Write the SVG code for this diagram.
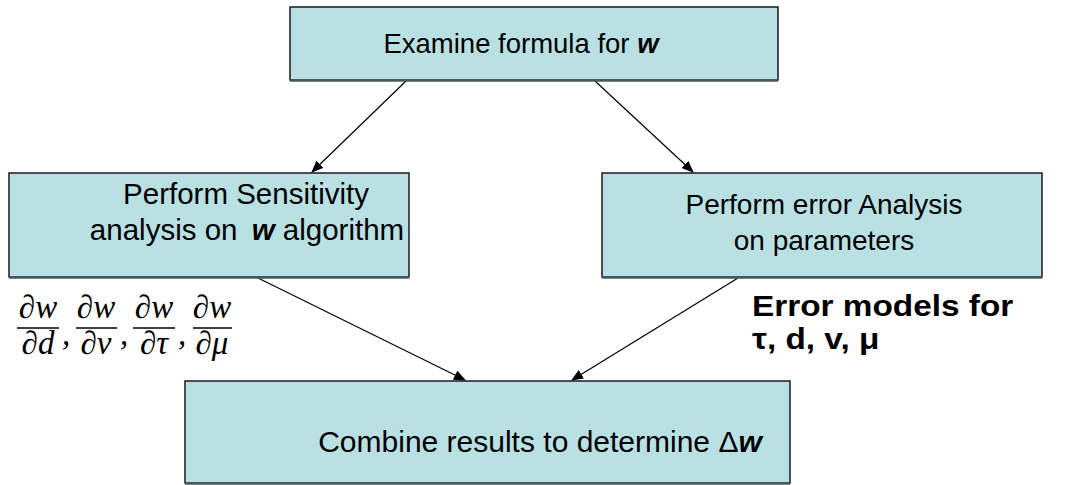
<svg xmlns="http://www.w3.org/2000/svg" width="1092" height="485" viewBox="0 0 1092 485">
<style>
.box{fill:#B9E0E3;stroke:#1a1a1a;stroke-width:1.5}
.sh{stroke:#4a5a5c;stroke-width:2.5}
.t{font-family:"Liberation Sans",Arial,sans-serif;font-size:28px;fill:#000;text-anchor:middle}
.b{font-weight:bold;font-style:italic}
.e{font-family:"Liberation Sans",Arial,sans-serif;font-size:29px;font-weight:bold;fill:#000}
.m{font-family:"Liberation Serif","Times New Roman",serif;font-size:33px;font-style:italic;fill:#000;text-anchor:middle}
.c{stroke:#000;stroke-width:1.2;fill:none;marker-end:url(#ah)}
.bar{stroke:#000;stroke-width:1.3}
</style>
<defs>
<marker id="ah" markerWidth="12" markerHeight="10" refX="11" refY="5" orient="auto" markerUnits="userSpaceOnUse">
<path d="M0,0 L12,5 L0,10 Z" fill="#000"/>
</marker>
</defs>
<g id="connectors">
<line class="c" x1="406" y1="81" x2="312" y2="172"/>
<line class="c" x1="595" y1="81" x2="693" y2="172"/>
<line class="c" x1="258" y1="278" x2="465" y2="380"/>
<line class="c" x1="738" y1="278" x2="572" y2="380"/>
</g>
<g id="top">
<rect class="box" x="290" y="7" width="488" height="73"/>
<line class="sh" x1="290" y1="80.5" x2="778" y2="80.5"/>
<text class="t" x="521" y="53" style="font-size:27.5px">Examine formula for <tspan class="b">w</tspan></text>
</g>
<g id="left">
<rect class="box" x="9" y="173" width="400" height="104"/>
<line class="sh" x1="9" y1="277.5" x2="409" y2="277.5"/>
<text class="t" x="246" y="204" style="font-size:29.5px">Perform Sensitivity</text>
<text class="t" x="247" y="240" style="font-size:29.5px">analysis on <tspan class="b" dx="6">w</tspan> algorithm</text>
</g>
<g id="right">
<rect class="box" x="602" y="173" width="440" height="104"/>
<line class="sh" x1="602" y1="277.5" x2="1042" y2="277.5"/>
<text class="t" x="824" y="214">Perform error Analysis</text>
<text class="t" x="824" y="250">on parameters</text>
</g>
<g id="bottom">
<rect class="box" x="185" y="381" width="605" height="102"/>
<line class="sh" x1="185" y1="483.5" x2="790" y2="483.5"/>
<text class="t" x="540" y="452" style="font-size:30px">Combine results to determine Δ<tspan class="b">w</tspan></text>
</g>
<g id="partials">
<text class="m" x="38" y="318">∂w</text>
<line class="bar" x1="17" y1="328" x2="59" y2="328"/>
<text class="m" x="38" y="354">∂d</text>
<text class="m" x="66" y="345">,</text>
<text class="m" x="96" y="318">∂w</text>
<line class="bar" x1="76" y1="328" x2="117" y2="328"/>
<text class="m" x="96" y="354">∂v</text>
<text class="m" x="124" y="345">,</text>
<text class="m" x="154" y="318">∂w</text>
<line class="bar" x1="133" y1="328" x2="175" y2="328"/>
<text class="m" x="154" y="354">∂τ</text>
<text class="m" x="182" y="345">,</text>
<text class="m" x="212" y="318">∂w</text>
<line class="bar" x1="193" y1="328" x2="232" y2="328"/>
<text class="m" x="212" y="354">∂μ</text>
</g>
<g id="errmodels">
<text class="e" transform="translate(752,316) scale(1.15,1)">Error models for</text>
<text class="e" transform="translate(752,349) scale(1.15,1)">τ, d, v, μ</text>
</g>
</svg>
